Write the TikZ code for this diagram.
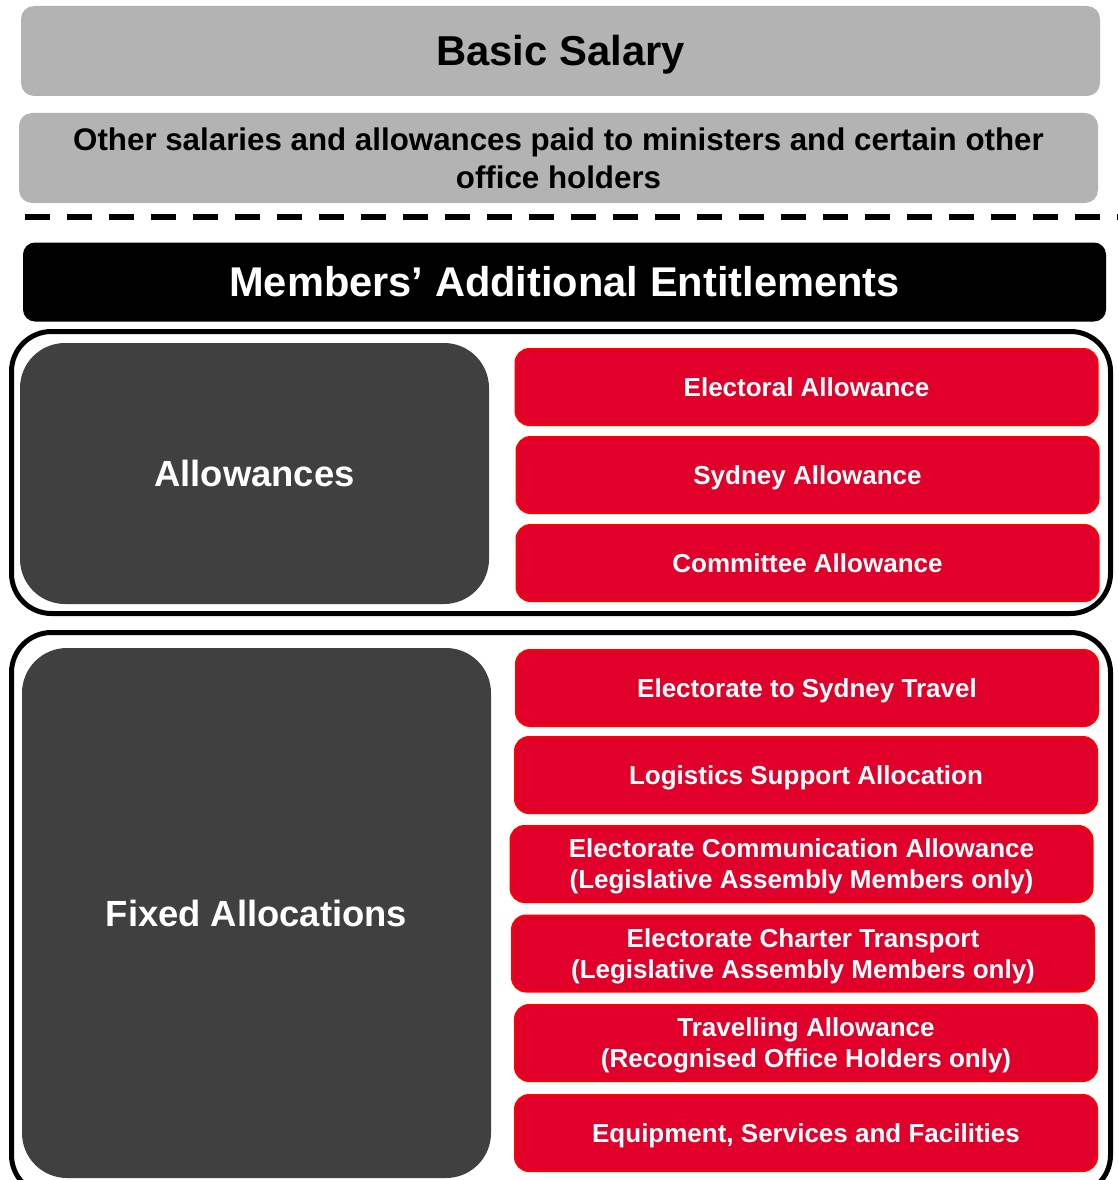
\documentclass[tikz,border=0pt]{standalone}
\usepackage{fontspec}
\setmainfont{Liberation Sans}
\definecolor{lgray}{HTML}{B3B3B3}
\definecolor{dgray}{HTML}{404040}
\definecolor{redfill}{HTML}{E0002A}
\definecolor{redline}{HTML}{FF0000}
\newcommand\firstlinestrut{\rule{0pt}{24pt}}
\begin{document}
\begin{tikzpicture}[x=1pt,y=-1pt,
  graybox/.style={fill=lgray, draw=none, rounded corners=13pt, inner sep=0pt, align=center, font=\bfseries},
  headbox/.style={fill=black, draw=none, rounded corners=12pt, inner sep=0pt, text=white, text height=29.8pt, text depth=0pt, font=\fontsize{41.6}{48}\selectfont\bfseries},
  darkbox/.style={fill=dgray, draw=none, rounded corners=45pt, inner sep=0pt, text=white, minimum width=469pt, text height=26pt, text depth=0pt, font=\fontsize{36.4}{42}\selectfont\bfseries},
  redbox/.style={fill=redfill, draw=redline, line width=2pt, rounded corners=14pt, inner sep=0pt, text=white, align=center, minimum width=582pt, minimum height=76pt, font=\fontsize{26}{31}\selectfont\bfseries},
  redone/.style={redbox, text height=18.6pt, text depth=0pt},
  frame/.style={draw=black, line width=5pt, rounded corners=40pt}
]
\useasboundingbox (0,0) rectangle (1118,1180);
\clip (0,0) rectangle (1118,1180);
\node[graybox, minimum width=1079pt, minimum height=90pt, text height=30pt, text depth=0pt, font=\fontsize{41.8}{48}\selectfont\bfseries] (basic) at (560.5,51) {Basic Salary};
\node[graybox, minimum width=1079pt, minimum height=90pt, font=\fontsize{31.3}{38}\selectfont\bfseries] (other) at (558.5,158) {Other salaries and allowances paid to ministers and certain other\\office holders};
\coordinate (dl) at (25,217);
\coordinate (dr) at (1118,217);
\draw[line width=6pt, dash pattern=on 25pt off 17pt] (dl) -- (dr);
\node[headbox, minimum width=1083pt, minimum height=79pt] (head) at (564.5,282) {Members’ Additional Entitlements};
\draw[frame] (11.5,331.5) rectangle (1110.5,613.5);
\draw[frame] (11.5,632.5) rectangle (1110.5,1195);
\node[darkbox, minimum height=261pt] (allow) at (254.5,473.5) {Allowances};
\node[darkbox, minimum height=530pt] (fixed) at (256.5,913) {Fixed Allocations};
\node[redone] (ea) at (806.5,387) {Electoral Allowance};
\node[redone] (sa) at (807.5,475) {Sydney Allowance};
\node[redone] (ca) at (807.5,563) {Committee Allowance};
\node[redone] (est) at (807,688) {Electorate to Sydney Travel};
\node[redone] (lsa) at (806,775) {Logistics Support Allocation};
\node[redbox] (eca) at (801.5,864) {\firstlinestrut Electorate Communication Allowance\\(Legislative Assembly Members only)};
\node[redbox] (ect) at (803,953.5) {\firstlinestrut Electorate Charter Transport\\(Legislative Assembly Members only)};
\node[redbox] (ta) at (806,1043) {\firstlinestrut Travelling Allowance\\(Recognised Office Holders only)};
\node[redone] (esf) at (806,1133) {Equipment, Services and Facilities};
\end{tikzpicture}
\end{document}
